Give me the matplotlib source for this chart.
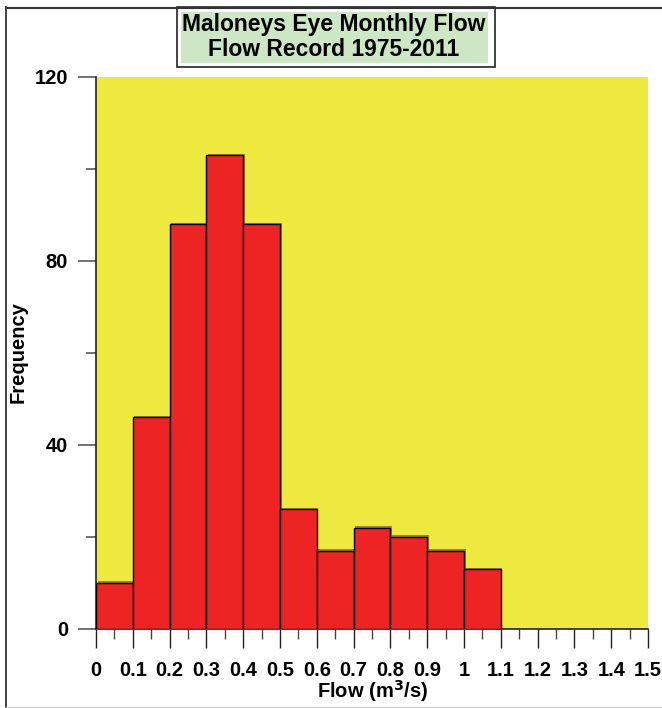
import matplotlib
matplotlib.use("Agg")
import matplotlib.pyplot as plt
from matplotlib.patches import Rectangle
from matplotlib.lines import Line2D
import matplotlib.patheffects as pe

# Monthly flow histogram, Maloneys Eye 1975-2011
bin_left = [0.0, 0.1, 0.2, 0.3, 0.4, 0.5, 0.6, 0.7, 0.8, 0.9, 1.0]
counts = [10, 46, 88, 103, 88, 26, 17, 22, 20, 17, 13]
bin_width = 0.1

x_ticks = [0.0, 0.1, 0.2, 0.3, 0.4, 0.5, 0.6, 0.7, 0.8, 0.9, 1.0, 1.1, 1.2, 1.3, 1.4, 1.5]
x_tick_labels = ["0", "0.1", "0.2", "0.3", "0.4", "0.5", "0.6", "0.7", "0.8", "0.9",
                 "1", "1.1", "1.2", "1.3", "1.4", "1.5"]
y_ticks = [0, 40, 80, 120]
y_tick_labels = ["0", "40", "80", "120"]

title_lines = ["Maloneys Eye Monthly Flow", "Flow Record 1975-2011"]

W, H = 662, 708
fig = plt.figure(figsize=(W / 100, H / 100), dpi=100)
fig.patch.set_facecolor("white")

narrow = ["Liberation Sans Narrow", "Liberation Sans", "DejaVu Sans"]
wide = ["Liberation Sans", "DejaVu Sans"]


def fx(px):
    return px / W


def fy(py):
    return 1 - py / H


# outer frame
fig.add_artist(Line2D([fx(6), fx(6)], [fy(7), fy(707)], color="#222222", lw=1.2))
fig.add_artist(Line2D([fx(6), 1.0], [fy(7.5), fy(7.5)], color="#333333", lw=1.5))
fig.add_artist(Line2D([fx(6), 1.0], [fy(707), fy(707)], color="#cccccc", lw=1.0))

ax = fig.add_axes([fx(96), fy(629), (648 - 96) / W, (629 - 77) / H])
ax.set_facecolor("#EDE93E")

ax.bar(bin_left, counts, width=bin_width, align="edge", color="#EE2424",
       edgecolor="black", linewidth=1.0, zorder=3,
       path_effects=[pe.SimplePatchShadow(offset=(1.2, 1.2), alpha=0.45),
                     pe.Normal()])

ax.set_xlim(0, 1.5)
ax.set_ylim(0, 120)

ax.set_xticks(x_ticks)
ax.set_xticklabels(x_tick_labels)
ax.set_xticks([v + 0.05 for v in x_ticks[:-1]], minor=True)
ax.set_yticks(y_ticks)
ax.set_yticklabels(y_tick_labels)
ax.set_yticks([20, 60, 100], minor=True)

ax.tick_params(axis="x", which="major", length=14, width=1.0, color="#222222",
               direction="out", pad=9)
ax.tick_params(axis="x", which="minor", length=7, width=1.0, color="#444444",
               direction="out")
ax.tick_params(axis="y", which="major", length=13, width=1.3, color="#666666",
               direction="out", pad=7)
ax.tick_params(axis="y", which="minor", length=7, width=1.3, color="#666666",
               direction="out")

for lab in ax.get_xticklabels() + ax.get_yticklabels():
    lab.set_fontfamily(narrow)
    lab.set_fontweight("bold")
    lab.set_fontsize(14.5)

for side in ["top", "right"]:
    ax.spines[side].set_visible(False)
ax.spines["left"].set_color("#222222")
ax.spines["bottom"].set_color("#222222")
ax.spines["left"].set_linewidth(1.2)
ax.spines["bottom"].set_linewidth(1.2)

fig.text(fx(373), fy(691), "Flow (m$^\\mathbf{3}$/s)", ha="center", va="center",
         fontsize=14.5, fontweight="bold", family=narrow)
fig.text(fx(18), fy(352), "Frequency", ha="center", va="center", rotation=90,
         fontsize=14.5, fontweight="bold", family=wide)

# title box
fig.add_artist(Rectangle((fx(177), fy(67)), (495 - 177) / W, (67 - 7) / H,
                         transform=fig.transFigure, facecolor="white",
                         edgecolor="#222222", lw=1.2))
fig.add_artist(Rectangle((fx(181), fy(63)), (488 - 181) / W, (63 - 12) / H,
                         transform=fig.transFigure, facecolor="#CDE6C4",
                         edgecolor="none"))
fig.text(fx(334), fy(25), title_lines[0], ha="center", va="center",
         fontsize=16.5, fontweight="bold", family=wide)
fig.text(fx(334), fy(50), title_lines[1], ha="center", va="center",
         fontsize=16.5, fontweight="bold", family=wide)

fig.savefig("out.png", dpi=100)
